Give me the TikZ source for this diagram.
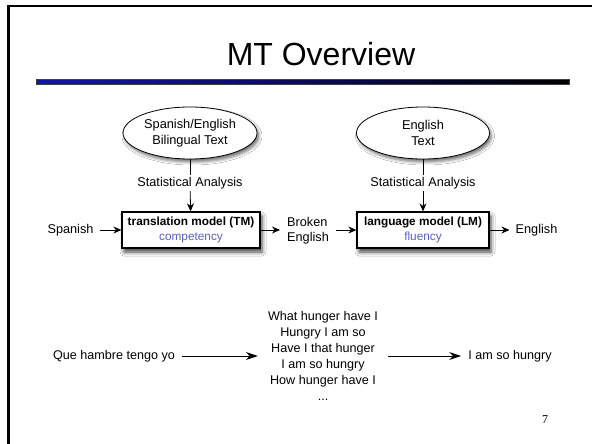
\documentclass[tikz,border=0pt]{standalone}
\usepackage{fontspec}
\setmainfont{Liberation Sans}
\newfontfamily\numfont{Liberation Serif}
\usetikzlibrary{arrows.meta,shapes.geometric,shadows.blur}
\definecolor{compblue}{RGB}{88,96,200}
\definecolor{barblue}{RGB}{20,20,175}
\begin{document}
\begin{tikzpicture}[x=1pt,y=-1pt,
  ell/.style={ellipse, draw, line width=0.8pt, fill=white, minimum width=134pt,
    minimum height=52pt, inner sep=0pt, align=center,
    font=\fontsize{12.8}{16}\selectfont,
    blur shadow={shadow xshift=2pt, shadow yshift=-3pt, shadow blur radius=3pt, shadow opacity=55}},
  mbox/.style={draw, line width=1.3pt, fill=white, minimum height=36pt, inner sep=0pt,
    align=center, font=\fontsize{11.8}{15}\selectfont,
    blur shadow={shadow xshift=2pt, shadow yshift=-4pt, shadow blur radius=4pt, shadow opacity=75}},
  lbl/.style={font=\fontsize{12.7}{15}\selectfont, inner ysep=2pt, inner xsep=6pt},
  slbl/.style={font=\fontsize{12.7}{15}\selectfont, inner sep=2pt, fill=white},
  btxt/.style={font=\fontsize{12.6}{16}\selectfont, align=center, inner ysep=1pt},
  arr/.style={-{Stealth[length=8pt,width=7pt]}, line width=0.8pt},
  bigarr/.style={-{Stealth[length=12pt,width=8pt]}, line width=1pt},
]
\useasboundingbox (0,0) rectangle (592,444);
\fill[white] (0,0) rectangle (592,444);
% slide frame
\draw[line width=2.5pt] (8.3,444) -- (8.3,6.2) -- (592,6.2);
% title and bar
\node[font=\fontsize{32}{38}\selectfont, inner sep=0pt] (title) at (321,54) {MT Overview};
\shade[left color=barblue, right color=black, draw=black!75, line width=0.4pt]
  (36,79.5) rectangle (569,84);
% ellipses
\node[ell] (e1) at (190,133) {Spanish/English\\Bilingual Text};
\node[ell, minimum width=133pt] (e2) at (423,133) {English\\Text};
% statistical analysis labels
\node[slbl] (s1) at (190,183) {Statistical Analysis};
\node[slbl] (s2) at (423,183) {Statistical Analysis};
% model boxes
\node[mbox, minimum width=138pt] (b1) at (191,230)
  {\textbf{translation model (TM)}\\\textcolor{compblue}{competency}};
\node[mbox, minimum width=132pt] (b2) at (423,230)
  {\textbf{language model (LM)}\\\textcolor{compblue}{fluency}};
% side labels
\node[lbl] (sp) at (70.5,230) {Spanish};
\node[lbl, align=left, inner xsep=7pt] (br) at (308,231) {Broken\\English};
\node[lbl] (en) at (536.5,230) {English};
% connectors
\draw[line width=0.8pt] (e1) -- (s1);
\draw[arr] (s1) -- (b1);
\draw[line width=0.8pt] (e2) -- (s2);
\draw[arr] (s2) -- (b2);
\draw[arr] (sp) -- (b1);
\draw[arr] (b1) -- (b1 -| br.west);
\draw[arr] (br.east |- b2) -- (b2);
\draw[arr] (b2) -- (en);
% bottom example
\node[btxt, inner xsep=7pt] (que) at (114,356) {Que hambre tengo yo};
\node[btxt, inner xsep=10pt] (list) at (323,356)
  {What hunger have I\\Hungry I am so\\Have I that hunger\\I am so hungry\\How hunger have I\\...};
\node[btxt, inner xsep=7pt] (out) at (510,356) {I am so hungry};
\draw[bigarr] (que) -- (que -| list.west);
\draw[bigarr] (que -| list.east) -- (out);
% page number
\node[font=\numfont\fontsize{12}{14}\selectfont, inner sep=0pt] (pg) at (545,420) {7};
\end{tikzpicture}
\end{document}
